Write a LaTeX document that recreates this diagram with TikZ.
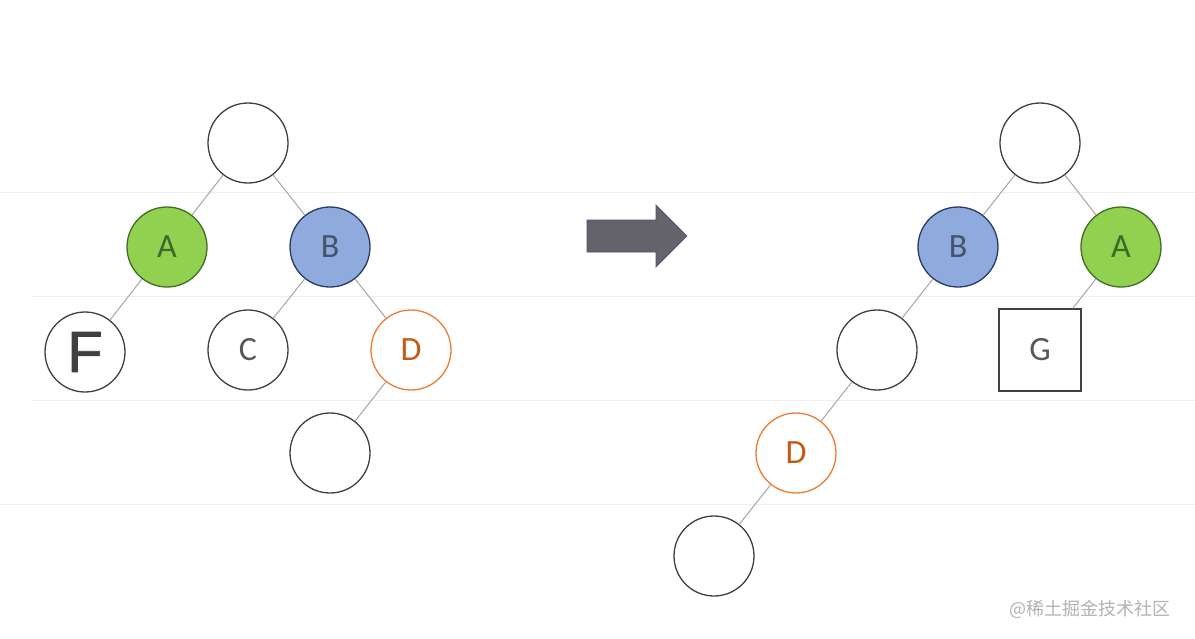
\documentclass[tikz,border=0pt]{standalone}
\usepackage{fontspec}
\setmainfont{Carlito}
\newfontfamily\arialf[FakeBold=1.4]{Liberation Sans}
\newfontfamily\cjk{Noto Sans CJK SC}
\usepackage{tikz}
\usetikzlibrary{shapes,positioning,calc}
\definecolor{nodeline}{HTML}{404040}
\definecolor{edgegray}{HTML}{A6A6A6}
\definecolor{rulegray}{HTML}{EEEEEE}
\definecolor{agreen}{HTML}{92D050}
\definecolor{agreenline}{HTML}{3F6E25}
\definecolor{agreentext}{HTML}{3A6B2A}
\definecolor{bblue}{HTML}{8FAADC}
\definecolor{bblueline}{HTML}{2A3A66}
\definecolor{bbluetext}{HTML}{44546A}
\definecolor{dorange}{HTML}{ED7D31}
\definecolor{dorangetext}{HTML}{C55A11}
\definecolor{lettergray}{HTML}{595959}
\definecolor{arrowgray}{HTML}{636369}

\begin{document}
\begin{tikzpicture}[x=1pt, y=-1pt,
		every node/.style={font=\fontsize{34}{34}\selectfont, text=lettergray},
		vertex/.style={circle, draw=nodeline, line width=1.3pt, fill=white, minimum size=80pt, inner sep=0pt},
		leaf/.style={rectangle, draw=nodeline, line width=1.3pt, fill=white, minimum size=82pt, inner sep=0pt},
		nodeA/.style={vertex, fill=agreen, draw=agreenline, text=agreentext},
		nodeB/.style={vertex, fill=bblue, draw=bblueline, text=bbluetext},
		nodeD/.style={vertex, draw=dorange, text=dorangetext},
		edge/.style={draw=edgegray, line width=1pt}]
			\useasboundingbox (0,0) rectangle (1195,638);
			\fill[white] (0,0) rectangle (1195,638);
			% faint rules
			\draw[rulegray, line width=1pt] (0,192) -- (1195,192);
			\draw[rulegray, line width=1pt] (32,296) -- (1195,296);
			\draw[rulegray, line width=1pt] (32,400) -- (1195,400);
			\draw[rulegray, line width=1pt] (0,504) -- (1195,504);
			% left tree
			\node[vertex] (lroot) at (248,143) {};
			\node[nodeA] (la) at (167,247) {A};
			\node[nodeB] (lb) at (330,247) {B};
			\node[vertex, font=\arialf\fontsize{58}{58}\selectfont, text=nodeline] (lf) at (85,352) {F};
			\node[vertex] (lc) at (248,350) {C};
			\node[nodeD] (ld) at (411,350) {D};
			\node[vertex] (ldc) at (330,453) {};
			\draw[edge] (lroot) -- (la);
			\draw[edge] (lroot) -- (lb);
			\draw[edge] (la) -- (lf);
			\draw[edge] (lb) -- (lc);
			\draw[edge] (lb) -- (ld);
			\draw[edge] (ld) -- (ldc);
			% arrow
			\draw[fill=arrowgray, draw=arrowgray!80!blue, line width=0.6pt] (587,220) -- (656,220) -- (656,205) -- (687,236) -- (656,267) -- (656,252) -- (587,252) -- cycle;
			% right tree
			\node[vertex] (rroot) at (1040,143) {};
			\node[nodeB] (rb) at (958,247) {B};
			\node[nodeA] (ra) at (1121,247) {A};
			\node[vertex] (rbc) at (877,350) {};
			\node[leaf] (rg) at (1040,350) {G};
			\node[nodeD] (rd) at (796,453) {D};
			\node[vertex] (rdc) at (714,556) {};
			\draw[edge] (rroot) -- (rb);
			\draw[edge] (rroot) -- (ra);
			\draw[edge] (ra) -- (rg);
			\draw[edge] (rb) -- (rbc);
			\draw[edge] (rbc) -- (rd);
			\draw[edge] (rd) -- (rdc);
			\node[font=\cjk\fontsize{18}{18}\selectfont, text=black!30, anchor=east] (mark) at (1174,609) {@稀土掘金技术社区};
		\end{tikzpicture}
\end{document}
